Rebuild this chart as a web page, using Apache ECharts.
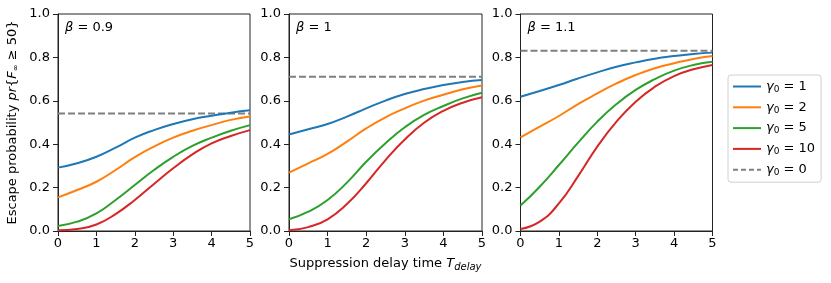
<!DOCTYPE html>
<html>
<head>
<meta charset="utf-8">
<script src="https://cdn.jsdelivr.net/npm/echarts@6/dist/echarts.min.js"></script>
<style>
html,body{margin:0;padding:0;background:#fff;}
#chart{width:831px;height:283px;}
</style>
</head>
<body>
<div id="chart"></div>
<script>
// ---- data ----
var delayTimes = [0, 0.5, 1, 1.5, 2, 2.5, 3, 3.5, 4, 4.5, 5];
var betaLabels = ['0.9', '1', '1.1'];
var gammaLabels = ['1', '2', '5', '10'];
var gammaZeroLabel = '0';

var beta09_g1  = [0.292, 0.312, 0.342, 0.384, 0.430, 0.465, 0.493, 0.515, 0.531, 0.545, 0.556];
var beta09_g2  = [0.155, 0.189, 0.227, 0.281, 0.340, 0.389, 0.430, 0.462, 0.488, 0.512, 0.528];
var beta09_g5  = [0.023, 0.043, 0.081, 0.143, 0.212, 0.281, 0.342, 0.392, 0.430, 0.462, 0.488];
var beta09_g10 = [0.003, 0.009, 0.030, 0.078, 0.143, 0.217, 0.289, 0.353, 0.404, 0.438, 0.465];
var beta09_g0  = 0.542;

var beta10_g1  = [0.445, 0.469, 0.493, 0.527, 0.565, 0.601, 0.631, 0.654, 0.673, 0.687, 0.696];
var beta10_g2  = [0.269, 0.312, 0.355, 0.412, 0.473, 0.524, 0.565, 0.601, 0.628, 0.653, 0.671];
var beta10_g5  = [0.054, 0.089, 0.143, 0.223, 0.319, 0.404, 0.478, 0.535, 0.576, 0.611, 0.637];
var beta10_g10 = [0.003, 0.018, 0.054, 0.124, 0.220, 0.327, 0.422, 0.499, 0.554, 0.591, 0.616];
var beta10_g0  = 0.711;

var beta11_g1  = [0.619, 0.645, 0.673, 0.703, 0.731, 0.757, 0.777, 0.794, 0.806, 0.816, 0.822];
var beta11_g2  = [0.432, 0.481, 0.530, 0.585, 0.634, 0.680, 0.719, 0.750, 0.773, 0.793, 0.806];
var beta11_g5  = [0.117, 0.204, 0.304, 0.407, 0.504, 0.585, 0.650, 0.700, 0.739, 0.765, 0.780];
var beta11_g10 = [0.009, 0.043, 0.127, 0.253, 0.389, 0.504, 0.596, 0.665, 0.714, 0.745, 0.765];
var beta11_g0  = 0.831;

var yTicks = [0, 0.2, 0.4, 0.6, 0.8, 1.0];
var xTicks = [0, 1, 2, 3, 4, 5];

// ---- chart ----
var FONT = 'DejaVu Sans';
var colors = ['#1f77b4', '#ff7f0e', '#2ca02c', '#d62728'];
var dashColor = '#7f7f7f';
var panels = [
  [beta09_g1, beta09_g2, beta09_g5, beta09_g10, beta09_g0],
  [beta10_g1, beta10_g2, beta10_g5, beta10_g10, beta10_g0],
  [beta11_g1, beta11_g2, beta11_g5, beta11_g10, beta11_g0]
];
var gridLefts = [58, 289, 520.5];
var gridWidths = [192, 193, 192];

function pairs(vals) {
  return delayTimes.map(function (t, i) { return [t, vals[i]]; });
}
function legendName(g) { return 'γ0 = ' + g; }

var grids = [], xAxes = [], yAxes = [], series = [], titles = [];
var richMath = {
  i: {fontFamily: FONT, fontStyle: 'italic', fontWeight: 'normal', fontSize: 13, color: '#000'},
  s: {fontFamily: FONT, fontWeight: 'normal', fontSize: 9, color: '#000', verticalAlign: 'bottom', padding: [6, 0, 0, 0]},
  n: {fontFamily: FONT, fontWeight: 'normal', fontSize: 13, color: '#000'}
};

panels.forEach(function (p, k) {
  grids.push({
    left: gridLefts[k], width: gridWidths[k], top: 14, height: 217,
    show: true, borderColor: '#222', borderWidth: 1, backgroundColor: 'transparent'
  });
  xAxes.push({
    type: 'value', gridIndex: k, min: xTicks[0], max: xTicks[xTicks.length - 1], interval: 1,
    axisLine: {show: true, onZero: false, lineStyle: {color: '#222', width: 1}},
    axisTick: {show: true, inside: false, length: 5, lineStyle: {color: '#222'}},
    axisLabel: {show: true, margin: 6, fontFamily: FONT, fontSize: 13, color: '#000'},
    splitLine: {show: false},
    name: k === 1 ? 'Suppression delay time {i|T}{sub|delay}' : '',
    nameLocation: 'middle', nameGap: 24,
    nameTextStyle: {
      fontFamily: FONT, fontSize: 13, color: '#000',
      rich: {
        i: {fontFamily: FONT, fontStyle: 'italic', fontSize: 13, color: '#000'},
        sub: {fontFamily: FONT, fontStyle: 'italic', fontSize: 10, color: '#000', padding: [7, 0, 0, 0]}
      }
    }
  });
  yAxes.push({
    type: 'value', gridIndex: k, min: 0, max: 1, interval: 0.2,
    axisLine: {show: true, lineStyle: {color: '#222', width: 1}},
    axisTick: {show: true, inside: false, length: 5, lineStyle: {color: '#222'}},
    axisLabel: {show: true, margin: 8, fontFamily: FONT, fontSize: 13, color: '#000',
      formatter: function (v) { return v.toFixed(1); }},
    splitLine: {show: false},
    name: k === 0 ? 'Escape probability {i|pr}{{i|F}{s|∞}{n| ≥ 50}}' : '',
    nameLocation: 'middle', nameGap: 38, nameRotate: 90,
    nameTextStyle: {
      fontFamily: FONT, fontSize: 13, color: '#000',
      rich: {
        i: {fontFamily: FONT, fontStyle: 'italic', fontSize: 13, color: '#000'},
        s: {fontFamily: FONT, fontSize: 8, color: '#000', padding: [6, 0, 0, 0]},
        n: {fontFamily: FONT, fontSize: 13, color: '#000'}
      }
    }
  });
  for (var g = 0; g < 4; g++) {
    series.push({
      type: 'line', name: legendName(gammaLabels[g]), xAxisIndex: k, yAxisIndex: k,
      data: pairs(p[g]), smooth: 0.5, symbol: 'none', showSymbol: false,
      lineStyle: {color: colors[g], width: 2}, itemStyle: {color: colors[g]},
      z: 3 + g, animation: false
    });
  }
  series.push({
    type: 'line', name: legendName(gammaZeroLabel), xAxisIndex: k, yAxisIndex: k,
    data: [[xTicks[0], p[4]], [xTicks[xTicks.length - 1], p[4]]],
    symbol: 'none', showSymbol: false,
    lineStyle: {color: dashColor, width: 2, type: [7, 3]}, itemStyle: {color: dashColor},
    z: 2, animation: false
  });
  titles.push({
    text: '{i|β}{n| = ' + betaLabels[k] + '}',
    left: gridLefts[k] + 7, top: 21, padding: 0,
    textStyle: {fontFamily: FONT, fontWeight: 'normal', fontSize: 13, color: '#000', rich: richMath}
  });
});

var legendData = gammaLabels.map(function (g, i) {
  return {name: legendName(g), lineStyle: {color: colors[i], width: 2, type: 'solid'}};
});
legendData.push({name: legendName(gammaZeroLabel), lineStyle: {color: dashColor, width: 2, type: [5, 3]}});

var chart = echarts.init(document.getElementById('chart'), null, {renderer: 'canvas'});
chart.setOption({
  animation: false,
  backgroundColor: '#fff',
  title: titles,
  grid: grids,
  xAxis: xAxes,
  yAxis: yAxes,
  legend: {
    data: legendData,
    orient: 'vertical', left: 728, top: 75, width: 93,
    padding: [5, 6, 5, 4], itemGap: 6.8, itemWidth: 28, itemHeight: 14,
    backgroundColor: '#fff', borderColor: '#d0d0d0', borderWidth: 1, borderRadius: 3,
    itemStyle: {opacity: 0},
    formatter: function (name) {
      var v = name.split(' = ')[1];
      return '{i|γ}{s|0}{n| = ' + v + '}';
    },
    textStyle: {fontFamily: FONT, fontSize: 13, color: '#000', rich: richMath}
  },
  series: series
});
</script>
</body>
</html>
